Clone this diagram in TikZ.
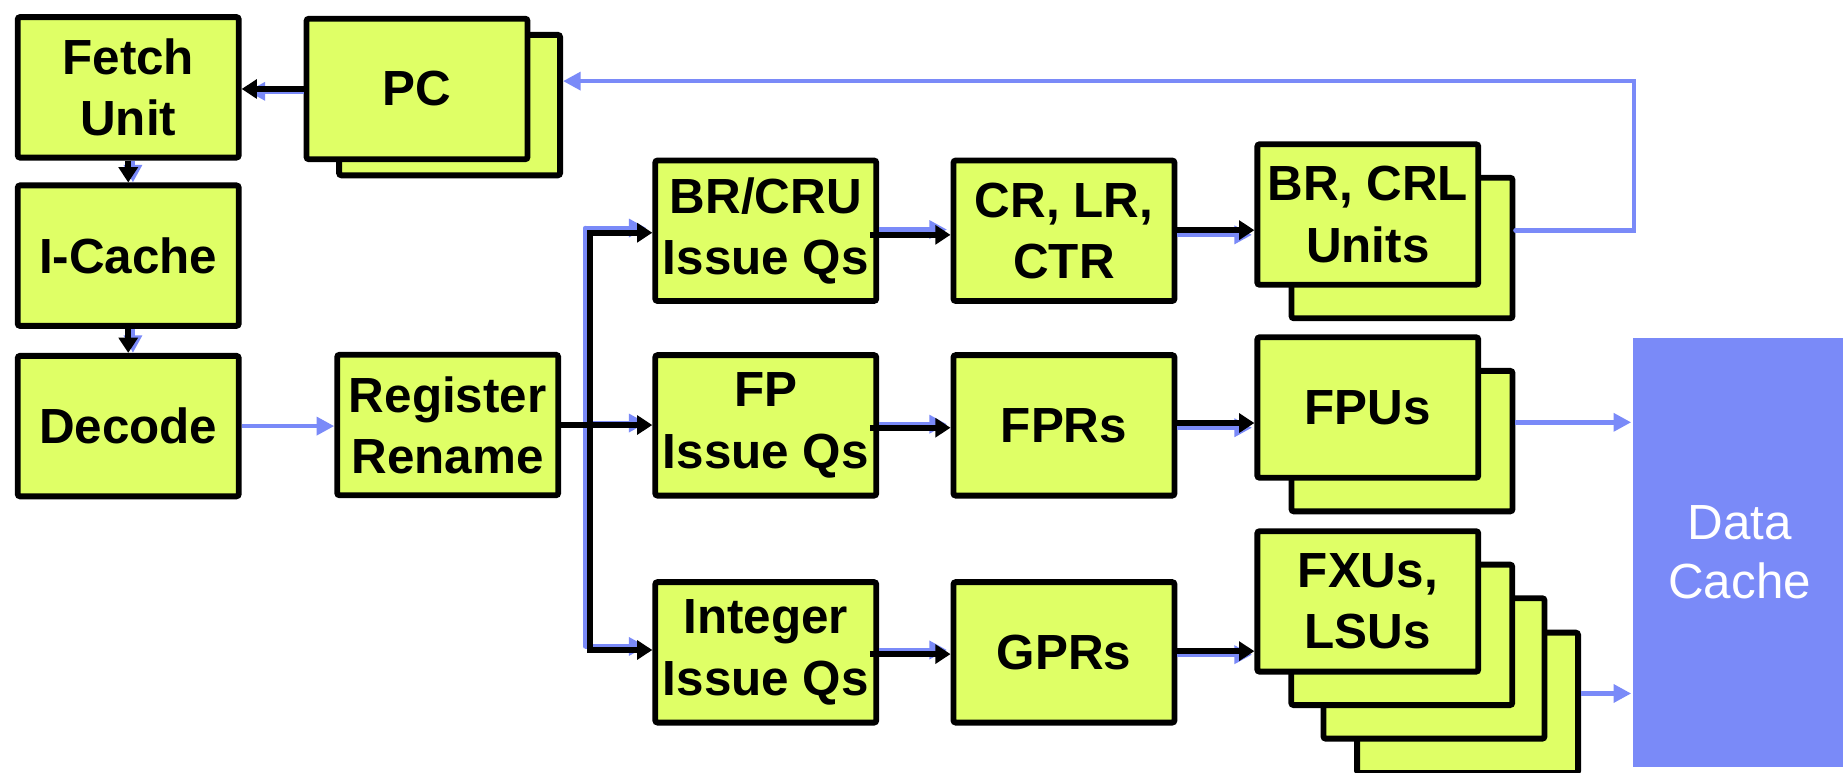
\documentclass[tikz,border=0pt]{standalone}
\usepackage{fontspec}
\setmainfont{Liberation Sans}
\usetikzlibrary{arrows.meta,calc,backgrounds}
\definecolor{ygreen}{RGB}{223,255,102}
\definecolor{lblue}{RGB}{122,138,248}
\begin{document}
\begin{tikzpicture}[x=1pt,y=-1pt,
  box/.style={draw=black,line width=5pt,fill=ygreen,rounded corners=2pt,
    minimum width=188pt,minimum height=119.5pt,inner sep=0pt,align=center,
    font=\bfseries\fontsize{42}{52}\selectfont},
  bk/.style={line width=5pt,draw=black,-{Triangle[length=13pt,width=16pt]}},
  bkl/.style={line width=5pt,draw=black},
  bl/.style={line width=3.8pt,draw=lblue,-{Triangle[length=15pt,width=15pt]}},
  bll/.style={line width=3.8pt,draw=lblue,line cap=round},
  shd/.style={draw=lblue,line width=3pt}]
\fill[white] (0,0) rectangle (1568,657);
\useasboundingbox (0,0) rectangle (1568,657);

% left column
\node[box] (fetch)  at (109.1,74.3)  {Fetch\\Unit};
\node[box] (icache) at (109.1,217.5) {I-Cache};
\node[box] (decode) at (109.1,362.5) {Decode};
% PC stack
\node[box] (pcb) at (382.5,89.4) {};
\node[box] (pcf) at (354.8,75.7) {PC};
\node[box] (rename) at (380.9,361.6) {Register\\Rename};
% issue queues
\node[box] (brq)  at (651.5,196.3) {BR/CRU\\Issue Qs};
\node[box] (fpq)  at (651.5,361.9) {FP\\Issue Qs};
\node[box] (intq) at (651.5,555)   {Integer\\Issue Qs};
% register files
\node[box] (crlr) at (905.2,196.3) {CR, LR,\\CTR};
\node[box] (fprs) at (905.2,361.9) {FPRs};
\node[box] (gprs) at (905.2,555)   {GPRs};
% units
\node[box] (bruB) at (1192.8,211)   {};
\node[box] (bruF) at (1163.7,182.5) {BR, CRL\\Units};
\node[box] (fpuB) at (1192.8,375.3) {};
\node[box] (fpuF) at (1163.7,346.7) {FPUs};
\node[box] (fxu4) at (1248.6,598)   {};
\node[box] (fxu3) at (1220,568.7)   {};
\node[box] (fxu2) at (1192.6,540.1) {};
\node[box] (fxuF) at (1163.7,511.7) {FXUs,\\LSUs};
% data cache
\node[fill=lblue,minimum width=182pt,minimum height=365pt,inner sep=0pt,
  text=white,align=center,font=\fontsize{42}{50}\selectfont] (dcache) at (1480,470) {Data\\Cache};

% blue shadows of boxes
\begin{scope}[on background layer]
  \foreach \b in {fetch,icache,decode}{
    \draw[shd] ($(\b.south west)+(2,2)$) rectangle ($(\b.north east)+(2,2)$);}
  \foreach \b in {brq,fpq,intq}{
    \draw[shd] ($(\b.south west)+(-2.5,1)$) rectangle ($(\b.north east)+(-2.5,1)$);}
\end{scope}

% PC -> Fetch
\draw[bl] ($(pcf.west)+(0,2)$) -- ($(fetch.east |- pcf.west)+(5,2)$);
\draw[bk] (pcf.west) -- (fetch.east |- pcf.west);
% Fetch -> I-Cache -> Decode
\draw[bl] ($(fetch.south)+(4,0)$) -- ($(icache.north)+(4,0)$);
\draw[bk] (fetch.south) -- (icache.north);
\draw[bl] ($(icache.south)+(4,0)$) -- ($(decode.north)+(4,0)$);
\draw[bk] (icache.south) -- (decode.north);
% Decode -> Rename
\draw[bl] (decode.east) -- (rename.west |- decode.east);

% dispatch bus
\coordinate (bbusT) at (498,194);
\coordinate (bbusB) at (498,550);
\coordinate (busT) at (502,198);
\coordinate (busB) at (502,553);
\draw[bll] (bbusT) -- (bbusB);
\draw[bl,shorten >=5pt] (bbusT) -- (bbusT -| brq.west);
\draw[bl,shorten >=5pt] (bbusB) -- (bbusB -| intq.west);
\draw[bl,shorten >=5pt] ($(bbusT |- fpq.west)+(0,-2)$) -- ($(fpq.west)+(0,-2)$);
\draw[bk] (rename.east) -- (fpq.west |- rename.east);
\draw[bk] (busB) -- (busT) -- (busT -| brq.west);
\draw[bk] (busT) -- (busB) -- (busB -| intq.west);

% issue queues -> register files
\draw[bl,shorten >=3pt] ($(brq.east)+(0,-1)$) -- ($(crlr.west)+(0,-1)$);
\draw[bk] ($(brq.east)+(-8,3.5)$) -- ($(crlr.west)+(0,3.5)$);
\draw[bl,shorten >=3pt] ($(fpq.east)+(0,-1)$) -- ($(fprs.west)+(0,-1)$);
\draw[bk] ($(fpq.east)+(-8,2)$) -- ($(fprs.west)+(0,2)$);
\draw[bl,shorten >=3pt] ($(intq.east)+(0,-2)$) -- ($(gprs.west)+(0,-2)$);
\draw[bk] ($(intq.east)+(-8,1.5)$) -- ($(gprs.west)+(0,1.5)$);

% register files -> units
\draw[bl,shorten >=2pt] ($(crlr.east)+(0,3.5)$) -- ($(crlr.east -| bruF.west)+(0,3.5)$);
\draw[bk] ($(crlr.east)+(0,-0.5)$) -- ($(crlr.east -| bruF.west)+(0,-0.5)$);
\draw[bl,shorten >=2pt] ($(fprs.east)+(0,2)$) -- ($(fprs.east -| fpuF.west)+(0,2)$);
\draw[bk] ($(fprs.east)+(0,-2)$) -- ($(fprs.east -| fpuF.west)+(0,-2)$);
\draw[bl,shorten >=2pt] ($(gprs.east)+(0,2)$) -- ($(gprs.east -| fxuF.west)+(0,2)$);
\draw[bk] ($(gprs.east)+(0,-1)$) -- ($(gprs.east -| fxuF.west)+(0,-1)$);

% units -> data cache
\draw[bl] ($(fpuB.east)+(0,-16)$) -- ($(fpuB.east -| dcache.west)+(-1,-16)$);
\draw[bl] ($(fxu4.east)+(0,-8)$) -- ($(fxu4.east -| dcache.west)+(-1,-8)$);

% branch feedback to PC
\coordinate (fbA) at (1390,196);
\coordinate (fbB) at (1390,69);
\draw[bl,line cap=round] (fbA -| bruB.east) -- (fbA) -- (fbB) -- (fbB -| pcb.east);
\end{tikzpicture}
\end{document}
